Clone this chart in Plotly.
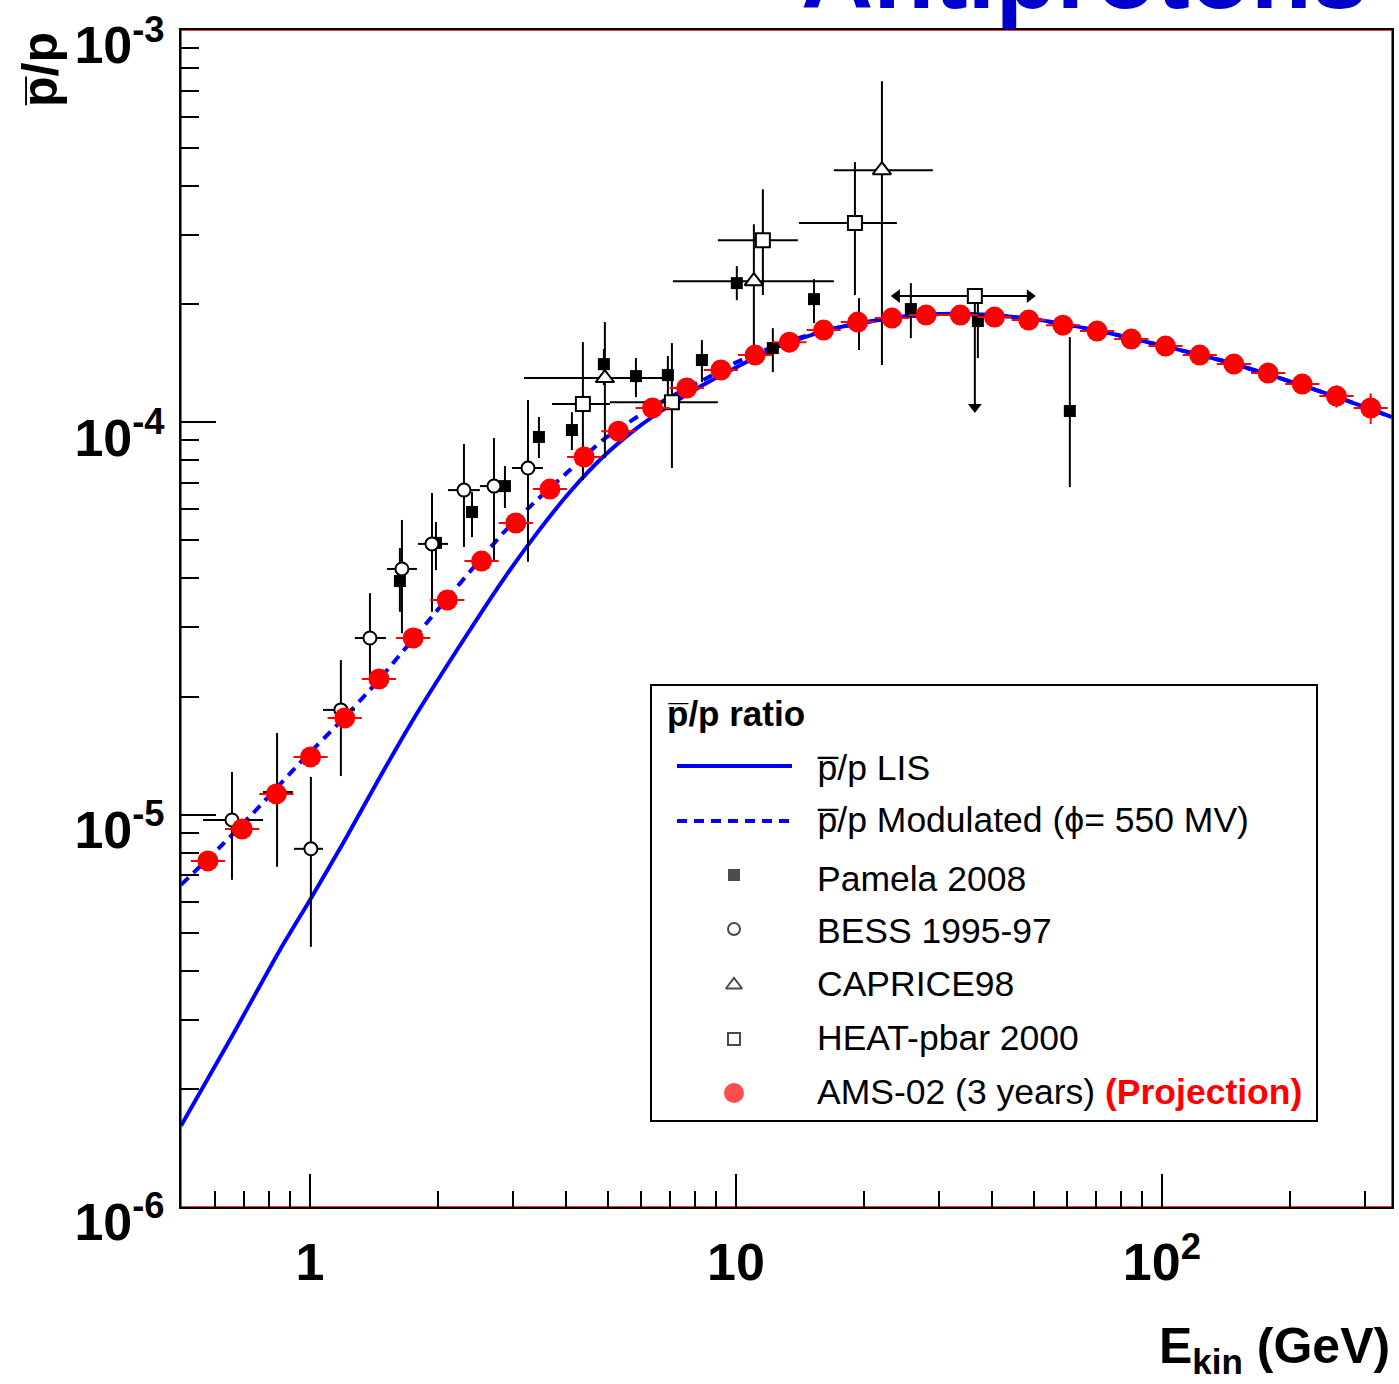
import math
import plotly.graph_objects as go

FONT = "Liberation Sans"
BLUE = "#0000ff"
RED = "#ff0000"

# ---------------- model curves ----------------
# pbar/p local interstellar spectrum (LIS)
lis_e = [0.498, 0.649, 0.850, 1.0, 1.208, 1.460, 1.745, 2.214, 2.839, 3.411, 4.076,
         4.872, 5.857, 7.000, 8.366, 10.05, 12.02, 14.52, 17.54, 23.24, 30.12, 39.48,
         51.70, 71.53, 98.9, 136.8, 189.2, 261.8, 346.7]
lis_r = [1.609e-6, 2.665e-6, 4.519e-6, 6.06e-6, 8.62e-6, 1.247e-5, 1.743e-5, 2.628e-5,
         3.963e-5, 5.22e-5, 6.645e-5, 8.16e-5, 9.67e-5, 1.107e-4, 1.245e-4, 1.384e-4,
         1.529e-4, 1.650e-4, 1.750e-4, 1.845e-4, 1.889e-4, 1.878e-4, 1.823e-4, 1.709e-4,
         1.574e-4, 1.442e-4, 1.297e-4, 1.153e-4, 1.032e-4]

# pbar/p modulated with phi = 550 MV
mod_e = [0.498, 0.615, 0.763, 0.947, 1.176, 1.383, 1.626, 2.020, 2.506, 2.839, 3.411,
         4.076, 4.872, 5.857, 7.000, 8.366, 10.05, 12.02, 14.52, 17.54, 23.24, 30.12,
         39.48, 51.70, 71.53, 98.9, 136.8, 189.2, 261.8, 346.7]
mod_r = [6.62e-6, 8.27e-6, 1.052e-5, 1.354e-5, 1.722e-5, 2.078e-5, 2.553e-5, 3.383e-5,
         4.46e-5, 5.22e-5, 6.34e-5, 7.56e-5, 9.02e-5, 1.032e-4, 1.160e-4, 1.282e-4,
         1.425e-4, 1.547e-4, 1.660e-4, 1.750e-4, 1.845e-4, 1.889e-4, 1.878e-4, 1.823e-4,
         1.709e-4, 1.574e-4, 1.442e-4, 1.297e-4, 1.153e-4, 1.032e-4]

# ---------------- Pamela 2008 ----------------
pam_e = [1.626, 1.976, 2.401, 2.869, 3.448, 4.121, 4.898, 5.825, 6.923, 8.321, 10.05,
         12.21, 15.25, 19.45, 25.75, 36.99, 60.81]
pam_r = [3.94e-5, 4.93e-5, 5.91e-5, 6.88e-5, 9.18e-5, 9.56e-5, 1.408e-4, 1.312e-4,
         1.320e-4, 1.442e-4, 2.265e-4, 1.547e-4, 2.062e-4, 1.802e-4, 1.945e-4, 1.813e-4,
         1.069e-4]
pam_lo = [3.29e-5, 4.20e-5, 5.10e-5, 6.05e-5, 8.11e-5, 8.50e-5, 1.245e-4, 1.160e-4,
          1.174e-4, 1.267e-4, 2.050e-4, 1.343e-4, 1.791e-4, 1.529e-4, 1.640e-4, 1.459e-4,
          6.84e-5]
pam_hi = [4.78e-5, 5.57e-5, 6.65e-5, 7.74e-5, 1.032e-4, 1.062e-4, 1.538e-4, 1.459e-4,
          1.476e-4, 1.621e-4, 2.503e-4, 1.739e-4, 2.319e-4, 2.074e-4, 2.265e-4, 2.050e-4,
          1.650e-4]

# ---------------- BESS 1995-97 ----------------
bess_e = [0.656, 0.837, 1.005, 1.182, 1.383, 1.644, 1.934, 2.299, 2.704, 3.250]
bess_r = [9.69e-6, 1.142e-5, 8.18e-6, 1.849e-5, 2.82e-5, 4.23e-5, 4.90e-5, 6.72e-5,
          6.88e-5, 7.65e-5]
bess_lo = [6.82e-6, 7.36e-6, 4.60e-6, 1.254e-5, 2.20e-5, 2.90e-5, 3.29e-5, 4.81e-5,
           4.46e-5, 4.41e-5]
bess_hi = [1.284e-5, 1.615e-5, 1.247e-5, 2.477e-5, 3.67e-5, 5.64e-5, 6.61e-5, 8.81e-5,
           9.12e-5, 1.140e-4]
bess_elo = [0.561, 0.776, 0.917, 1.073, 1.275, 1.516, 1.793, 2.109, 2.506, 2.980]
bess_ehi = [0.776, 0.912, 1.073, 1.275, 1.508, 1.783, 2.109, 2.506, 2.948, 3.524]

# ---------------- CAPRICE98 ----------------
cap_e = [4.925, 11.02, 22.02]
cap_r = [1.297e-4, 2.291e-4, 4.396e-4]
cap_lo = [8.11e-5, 1.556e-4, 1.400e-4]
cap_hi = [1.802e-4, 3.20e-4, 7.41e-4]
cap_elo = [3.180, 7.114, 16.98]
cap_ehi = [7.076, 16.98, 29.0]

# ---------------- HEAT-pbar 2000 ----------------
heat_e = [4.373, 7.076, 11.57, 19.03]
heat_r = [1.114e-4, 1.126e-4, 2.915e-4, 3.222e-4]
heat_lo = [7.13e-5, 7.65e-5, 2.112e-4, 2.112e-4]
heat_hi = [1.602e-4, 1.593e-4, 3.93e-4, 4.61e-4]
heat_elo = [3.700, 5.06, 9.07, 14.06]
heat_ehi = [5.06, 9.07, 13.98, 23.87]
# last HEAT bin: wide energy range and upper limit
heat_lim_e = 36.39
heat_lim_r = 2.099e-4
heat_lim_elo = 23.87
heat_lim_ehi = 48.98
heat_lim_rlo = 1.094e-4

# ---------------- AMS-02 (3 years) projection ----------------
ams_e = [0.576, 0.693, 0.834, 1.003, 1.207, 1.452, 1.747, 2.101, 2.528, 3.042, 3.659,
         4.402, 5.297, 6.372, 7.666, 9.222, 11.09, 13.35, 16.06, 19.32, 23.24, 27.96,
         33.64, 40.46, 48.68, 58.56, 70.46, 84.76, 102.0, 122.7, 147.6, 177.6, 213.6,
         257.0, 309.2]
ams_r = [7.62e-6, 9.19e-6, 1.129e-5, 1.403e-5, 1.764e-5, 2.217e-5, 2.82e-5, 3.525e-5,
         4.43e-5, 5.54e-5, 6.76e-5, 8.16e-5, 9.50e-5, 1.088e-4, 1.224e-4, 1.360e-4,
         1.485e-4, 1.602e-4, 1.719e-4, 1.802e-4, 1.845e-4, 1.878e-4, 1.878e-4, 1.856e-4,
         1.823e-4, 1.770e-4, 1.709e-4, 1.631e-4, 1.565e-4, 1.485e-4, 1.408e-4, 1.336e-4,
         1.252e-4, 1.167e-4, 1.088e-4]
ams_err_pct = [2, 2, 2, 2, 2, 2, 2, 2, 2, 2, 2, 2, 2, 2, 2, 2, 2, 2, 2, 2, 2, 2, 2, 2,
               2, 2, 2.5, 3, 3, 3.5, 4, 4.5, 5.5, 6.5, 9]

# axis ticks
x_major = [1, 10, 100]
x_major_text = ["1", "10", "10<sup>2</sup>"]
x_minor = [0.6, 0.7, 0.8, 0.9, 2, 3, 4, 5, 6, 7, 8, 9, 20, 30, 40, 50, 60, 70, 80, 90,
           200, 300]
y_major = [1e-6, 1e-5, 1e-4, 1e-3]
y_major_text = ["10<sup>-6</sup>", "10<sup>-5</sup>", "10<sup>-4</sup>", "10<sup>-3</sup>"]
y_minor = [k * 10.0 ** p for p in (-6, -5, -4) for k in range(2, 10)]

PBAR = "p\u0305/p"


def plus(v, hi):
    return [h - x for x, h in zip(v, hi)]


def minus(v, lo):
    return [x - l for x, l in zip(v, lo)]


# AMS bin edges: geometric midpoints between neighbouring energies
ams_edges = [math.sqrt(a * b) for a, b in zip(ams_e[:-1], ams_e[1:])]
ams_edges = [ams_e[0] ** 2 / ams_edges[0]] + ams_edges + [ams_e[-1] ** 2 / ams_edges[-1]]
ams_elo = ams_edges[:-1]
ams_ehi = ams_edges[1:]
ams_err = [r * p / 100.0 for r, p in zip(ams_r, ams_err_pct)]

fig = go.Figure()

# model curves
fig.add_trace(go.Scatter(x=mod_e, y=mod_r, mode="lines", line_shape="spline",
                         line=dict(color=BLUE, width=4, dash="10px,7px", smoothing=0.6),
                         showlegend=False))
fig.add_trace(go.Scatter(x=lis_e, y=lis_r, mode="lines", line_shape="spline",
                         line=dict(color=BLUE, width=4, smoothing=0.6), showlegend=False))

EB = dict(type="data", symmetric=False, color="black", thickness=2, width=0)

# Pamela 2008
fig.add_trace(go.Scatter(
    x=pam_e, y=pam_r, mode="markers",
    marker=dict(symbol="square", size=12, color="black"),
    error_y=dict(EB, array=plus(pam_r, pam_hi), arrayminus=minus(pam_r, pam_lo)),
    showlegend=False))

# BESS 1995-97
fig.add_trace(go.Scatter(
    x=bess_e, y=bess_r, mode="markers",
    marker=dict(symbol="circle", size=13, color="white", line=dict(color="black", width=2)),
    error_y=dict(EB, array=plus(bess_r, bess_hi), arrayminus=minus(bess_r, bess_lo)),
    error_x=dict(EB, array=plus(bess_e, bess_ehi), arrayminus=minus(bess_e, bess_elo)),
    showlegend=False))

# CAPRICE98
fig.add_trace(go.Scatter(
    x=cap_e, y=cap_r, mode="markers",
    marker=dict(symbol="triangle-up", size=16, color="white", line=dict(color="black", width=2)),
    error_y=dict(EB, array=plus(cap_r, cap_hi), arrayminus=minus(cap_r, cap_lo)),
    error_x=dict(EB, array=plus(cap_e, cap_ehi), arrayminus=minus(cap_e, cap_elo)),
    showlegend=False))

# HEAT-pbar 2000 : last bin with arrows (energy range / upper limit)
fig.add_trace(go.Scatter(
    x=[heat_lim_e], y=[heat_lim_r], mode="markers",
    marker=dict(symbol="square", size=14, color="white", line=dict(color="black", width=2)),
    error_y=dict(EB, array=[0], arrayminus=[heat_lim_r - heat_lim_rlo]),
    error_x=dict(EB, array=[heat_lim_ehi - heat_lim_e], arrayminus=[heat_lim_e - heat_lim_elo]),
    showlegend=False))
fig.add_trace(go.Scatter(
    x=[heat_lim_elo, heat_lim_ehi, heat_lim_e],
    y=[heat_lim_r, heat_lim_r, heat_lim_rlo],
    mode="markers",
    marker=dict(symbol=["triangle-left", "triangle-right", "triangle-down"], size=12,
                color="black"),
    showlegend=False))
fig.add_trace(go.Scatter(
    x=heat_e, y=heat_r, mode="markers",
    marker=dict(symbol="square", size=14, color="white", line=dict(color="black", width=2)),
    error_y=dict(EB, array=plus(heat_r, heat_hi), arrayminus=minus(heat_r, heat_lo)),
    error_x=dict(EB, array=plus(heat_e, heat_ehi), arrayminus=minus(heat_e, heat_elo)),
    showlegend=False))

# AMS-02 projection
fig.add_trace(go.Scatter(
    x=ams_e, y=ams_r, mode="markers",
    marker=dict(symbol="circle", size=21, color=RED),
    error_y=dict(type="data", array=ams_err, color=RED, thickness=2, width=0),
    error_x=dict(type="data", symmetric=False, array=plus(ams_e, ams_ehi),
                 arrayminus=minus(ams_e, ams_elo), color=RED, thickness=2, width=0),
    showlegend=False))

# ---------------- legend box ----------------
W, H = 1399, 1384
L, R, T, B = 181, 7, 30, 177
PW, PH = W - L - R, H - T - B


def px(xp):
    return (xp - L) / PW


def py(yp):
    return (H - B - yp) / PH


leg_key_x = 734
leg_rows = [768, 820, 879, 931, 984, 1038, 1092]
leg_labels = [PBAR + " LIS",
              PBAR + " Modulated (\u03d5= 550 MV)",
              "Pamela 2008",
              "BESS 1995-97",
              "CAPRICE98",
              "HEAT-pbar 2000",
              "AMS-02 (3 years) <b><span style='color:#ff0000'>(Projection)</span></b>"]

shapes = [
    dict(type="rect", xref="paper", yref="paper", x0=0, x1=1, y0=0, y1=1,
         line=dict(color="#e00000", width=1.5), layer="below"),
    dict(type="rect", xref="paper", yref="paper", x0=px(651), x1=px(1317),
         y0=py(1121), y1=py(685), line=dict(color="black", width=2),
         fillcolor="white", layer="below"),
    dict(type="line", xref="paper", yref="paper", x0=px(677), x1=px(792),
         y0=py(766), y1=py(766), line=dict(color=BLUE, width=4)),
    dict(type="line", xref="paper", yref="paper", x0=px(677), x1=px(792),
         y0=py(821), y1=py(821), line=dict(color=BLUE, width=4, dash="10px,7px")),
]

key_rows = [875, 929, 985, 1039, 1093]
fig.add_trace(go.Scatter(
    x=[px(leg_key_x)] * 5, y=[py(v) for v in key_rows],
    xaxis="x2", yaxis="y2", mode="markers", cliponaxis=False,
    marker=dict(symbol=["square", "circle", "triangle-up", "square", "circle"],
                size=[12, 12, 14, 12, 20],
                color=["black", "white", "white", "white", RED],
                line=dict(color=["black", "black", "black", "black", RED], width=[0, 2, 2, 2, 0])),
    showlegend=False))

annotations = []
annotations.append(dict(xref="paper", yref="paper", x=px(665), y=py(713), xanchor="left",
                        yanchor="middle", showarrow=False,
                        text="<b>" + PBAR + " ratio</b>",
                        font=dict(family=FONT, size=35, color="black")))
for yrow, lab in zip(leg_rows, leg_labels):
    annotations.append(dict(xref="paper", yref="paper", x=px(815), y=py(yrow),
                            xanchor="left", yanchor="middle", showarrow=False, text=lab,
                            font=dict(family=FONT, size=35.5, color="black")))

# title, axis titles
annotations.append(dict(xref="paper", yref="paper", x=px(1370), y=py(-27),
                        xanchor="right", yanchor="middle", showarrow=False,
                        text="<b>Antiprotons</b>",
                        font=dict(family=FONT, size=100, color="#0000cc")))
annotations.append(dict(xref="paper", yref="paper", x=1.0, y=py(1350),
                        xanchor="right", yanchor="middle", showarrow=False,
                        text="<b>E<sub>kin</sub> (GeV)</b>",
                        font=dict(family=FONT, size=50, color="black")))
annotations.append(dict(xref="paper", yref="paper", x=px(40), y=py(70),
                        xanchor="center", yanchor="middle", showarrow=False, textangle=-90,
                        text="<b>" + PBAR + "</b>",
                        font=dict(family=FONT, size=50, color="black")))

tickfont = dict(family=FONT, size=52, color="black", weight="bold")

fig.update_layout(
    width=W, height=H,
    margin=dict(l=L, r=R, t=T, b=B, autoexpand=False),
    paper_bgcolor="white", plot_bgcolor="white",
    showlegend=False,
    shapes=shapes, annotations=annotations,
    xaxis=dict(type="log", range=[math.log10(0.498), math.log10(347)],
               tickvals=x_major, ticktext=x_major_text, ticks="inside", ticklen=33,
               tickwidth=2, tickcolor="black", tickfont=tickfont,
               minor=dict(tickvals=x_minor, ticks="inside", ticklen=16, tickwidth=2,
                          tickcolor="black", showgrid=False),
               showgrid=False, zeroline=False, showline=True, linecolor="black",
               linewidth=2, mirror=True, automargin=False, ticklabelstandoff=9),
    yaxis=dict(type="log", range=[-6.0005, -2.9995],
               tickvals=y_major, ticktext=y_major_text, ticks="inside", ticklen=35,
               tickwidth=2, tickcolor="black", tickfont=tickfont,
               minor=dict(tickvals=y_minor, ticks="inside", ticklen=18, tickwidth=2,
                          tickcolor="black", showgrid=False),
               showgrid=False, zeroline=False, showline=True, linecolor="black",
               linewidth=2, mirror=True, automargin=False, ticklabelstandoff=4,
               ticklabelshift=15),
    xaxis2=dict(overlaying="x", range=[0, 1], visible=False),
    yaxis2=dict(overlaying="y", range=[0, 1], visible=False),
)

fig.write_html("out.html")
